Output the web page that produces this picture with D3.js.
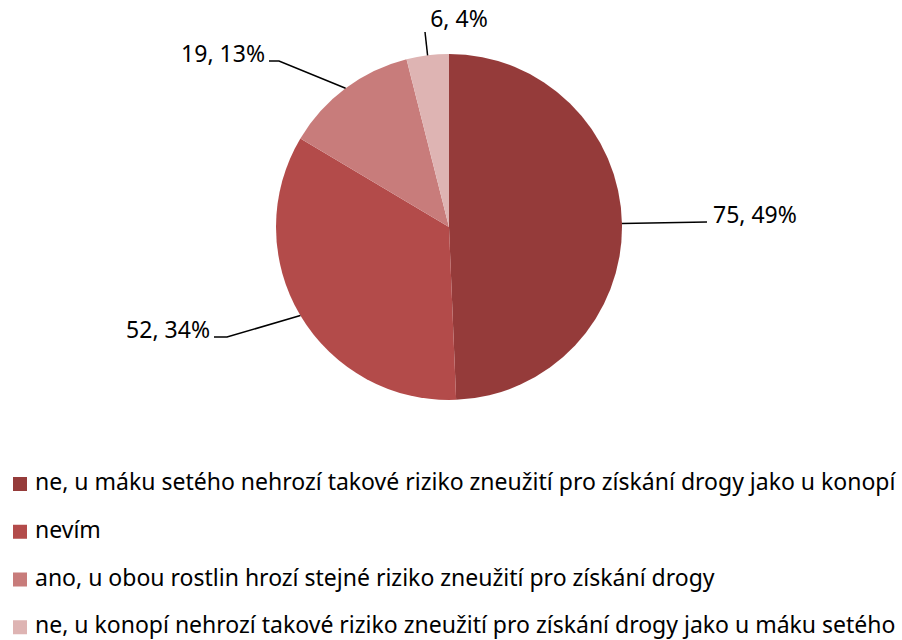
<!DOCTYPE html>
<html>
<head>
<meta charset="utf-8">
<script src="https://cdn.jsdelivr.net/npm/d3@7"></script>
<style>
  body { margin: 0; background: #fff; }
  text { font-family: "Noto Sans", sans-serif; fill: #000; }
</style>
</head>
<body>
<div id="chart"></div>
<script>
// data
let categories = [
    "ne, u máku setého nehrozí takové riziko zneužití pro získání drogy jako u konopí",
    "nevím",
    "ano, u obou rostlin hrozí stejné riziko zneužití pro získání drogy",
    "ne, u konopí nehrozí takové riziko zneužití pro získání drogy jako u máku setého"
];
let counts = [75, 52, 19, 6];
let colors = ["#953B3A", "#B34B4A", "#C87C7B", "#DEB4B3"];

// label layout: elbow point relative to pie centre, tail length, side
let labelLayout = [
    { ex: 258, ey: -5, tail: 0, side: "right" },
    { ex: -222, ey: 110, tail: 13, side: "left" },
    { ex: -170, ey: -166, tail: 10, side: "left" },
    { ex: -24, ey: -195, tail: 0, side: "top" }
];

let width = 902, height = 640;
let cx = 449, cy = 227, radius = 173;

let svg = d3.select("#chart").append("svg")
    .attr("width", width).attr("height", height);

let total = d3.sum(counts);
let rows = counts.map(function(v, i) {
    return { name: categories[i], value: v, color: colors[i], layout: labelLayout[i] };
});

let pie = d3.pie().sort(null).value(function(d) { return d.value; });
let arc = d3.arc().innerRadius(0).outerRadius(radius);
let arcs = pie(rows);

let g = svg.append("g").attr("transform", "translate(" + cx + "," + cy + ")");

g.selectAll(".slice").data(arcs).enter().append("path")
    .classed("slice", true)
    .attr("d", arc)
    .attr("fill", function(d) { return d.data.color; });

let labels = g.selectAll(".lbl").data(arcs).enter().append("g").classed("lbl", true);

labels.append("polyline")
    .attr("fill", "none")
    .attr("stroke", "#000")
    .attr("stroke-width", 1.5)
    .attr("points", function(d) {
        let mid = (d.startAngle + d.endAngle) / 2;
        let sx = Math.sin(mid) * radius, sy = -Math.cos(mid) * radius;
        let L = d.data.layout;
        let pts = [[sx, sy], [L.ex, L.ey]];
        if (L.tail) pts.push([L.ex - L.tail, L.ey]);
        return pts.map(function(p) { return p.join(","); }).join(" ");
    });

labels.append("text")
    .attr("font-size", 23)
    .attr("x", function(d) {
        let L = d.data.layout;
        if (L.side == "right") return L.ex + 6;
        if (L.side == "left") return L.ex - L.tail - 4;
        return L.ex + 34;
    })
    .attr("y", function(d) {
        let L = d.data.layout;
        if (L.side == "top") return L.ey - 5;
        return L.ey + 1;
    })
    .attr("text-anchor", function(d) {
        let L = d.data.layout;
        return L.side == "right" ? "start" : (L.side == "left" ? "end" : "middle");
    })
    .text(function(d) {
        return d.data.value + ", " + Math.round(d.data.value / total * 100) + "%";
    });

// legend
let legendY = d3.scaleBand().domain(d3.range(rows.length)).range([466, 657]);

let legend = svg.selectAll(".legend").data(rows).enter().append("g")
    .classed("legend", true)
    .attr("transform", function(d, i) { return "translate(13," + legendY(i) + ")"; });

legend.append("rect")
    .attr("x", 0).attr("y", 11)
    .attr("width", 14).attr("height", 14)
    .attr("fill", function(d) { return d.color; });

legend.append("text")
    .attr("x", 22).attr("y", 24)
    .attr("font-size", 23)
    .text(function(d) { return d.name; });
</script>
</body>
</html>
